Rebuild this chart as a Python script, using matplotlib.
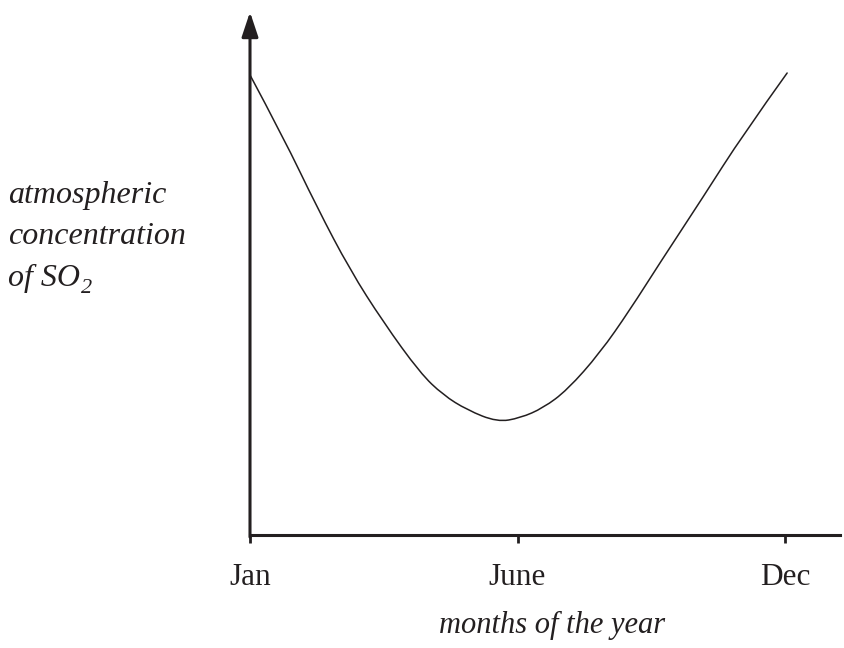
# Sketch of seasonal SO2 concentration (Jan -> June dip -> Dec)
import matplotlib
matplotlib.use('Agg')
import matplotlib.pyplot as plt
from matplotlib.path import Path
from matplotlib.patches import PathPatch

plt.rcParams['font.family'] = ['Liberation Serif', 'DejaVu Serif']

INK = '#231f20'

# curve (x: Jan=0, June=5, Dec=10; y: arbitrary units)
month_pos = [0.0, 0.62, 1.25, 1.87, 2.49, 3.18, 3.61, 4.06, 4.62, 5.05, 5.48,
             5.93, 6.54, 7.10, 7.66, 8.47, 9.21, 10.04]
so2_level = [92.0, 79.6, 65.6, 53.0, 42.6, 32.4, 28.0, 25.0, 22.6, 23.4, 25.4,
             29.0, 36.4, 45.0, 54.4, 67.6, 80.0, 92.4]

tick_pos = [0, 5, 10]
tick_labels = ['Jan', 'June', 'Dec']

W, H = 844, 648
fig = plt.figure(figsize=(W / 100, H / 100), dpi=100)
ax = fig.add_axes([250 / W, (H - 535) / H, (840 - 250) / W, (535 - 12) / H])

# smooth the read points with quadratic bezier segments (points as controls)
pts = list(zip(month_pos, so2_level))
verts = [pts[0]]
codes = [Path.MOVETO]
for i in range(1, len(pts) - 1):
    nxt = pts[i + 1] if i == len(pts) - 2 else \
        ((pts[i][0] + pts[i + 1][0]) / 2, (pts[i][1] + pts[i + 1][1]) / 2)
    verts += [pts[i], nxt]
    codes += [Path.CURVE3, Path.CURVE3]
ax.add_patch(PathPatch(Path(verts, codes), facecolor='none', edgecolor=INK,
                       lw=1.1, capstyle='round'))

ax.set_xlim(0, (840 - 250) / 53.5)
ax.set_ylim(0, (535 - 12) / 5)

for s in ['top', 'right', 'left']:
    ax.spines[s].set_visible(False)
ax.spines['bottom'].set_linewidth(2.2)
ax.spines['bottom'].set_color(INK)

# y axis drawn as an arrow
ax.annotate('', xy=(0, 1), xytext=(0, -0.004), xycoords='axes fraction',
            arrowprops=dict(arrowstyle='-|>,head_length=1.5,head_width=0.5',
                            lw=2.2, color=INK, shrinkA=0, shrinkB=0))

ax.set_yticks([])
ax.set_xticks(tick_pos)
ax.set_xticklabels(tick_labels, fontsize=22.5)
ax.tick_params(axis='x', direction='out', length=6, width=2, color=INK,
               labelcolor=INK, pad=14)

def ftext(x, y, s, **kw):
    return fig.text(x / W, 1 - y / H, s, color=INK, **kw)

ftext(8, 203, 'atmospheric', fontsize=23, style='italic', va='baseline')
ftext(8, 244, 'concentration', fontsize=23, style='italic', va='baseline')
so = ftext(8, 286, 'of SO', fontsize=23, style='italic', va='baseline')
# italic subscript 2 placed just after "SO"
ax.annotate('2', xy=(1, 0), xycoords=so, xytext=(0.5, 0),
            textcoords='offset points', fontsize=16, style='italic',
            color=INK, va='baseline', ha='left', annotation_clip=False)

ftext(552, 633, 'months of the year', fontsize=22, style='italic',
      ha='center', va='baseline')

fig.savefig('out.png', dpi=100)
